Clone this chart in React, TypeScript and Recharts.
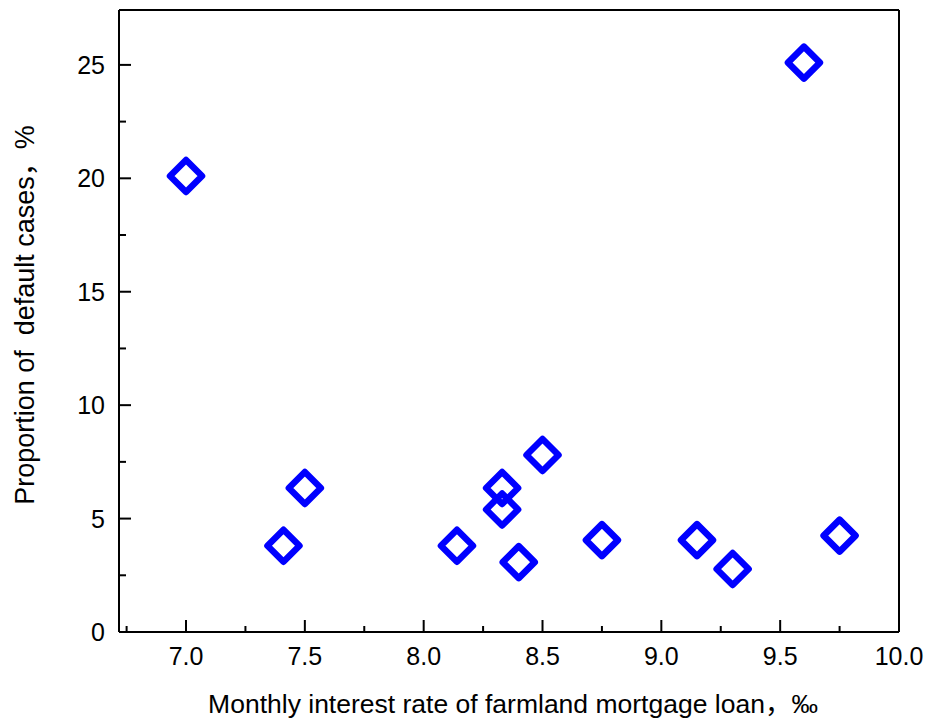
import React from "react";
import { ScatterChart, Scatter, XAxis, YAxis, ReferenceLine } from "recharts";

const interestRate = [7.0, 9.6, 7.41, 7.5, 8.14, 8.33, 8.33, 8.4, 8.5, 8.75, 9.15, 9.3, 9.75];
const defaultShare = [20.1, 25.1, 3.8, 6.35, 3.8, 6.35, 5.4, 3.08, 7.8, 4.05, 4.05, 2.78, 4.25];

const xTicks = [6.75, 7.0, 7.25, 7.5, 7.75, 8.0, 8.25, 8.5, 8.75, 9.0, 9.25, 9.5, 9.75, 10.0];
const xMajor = [7.0, 7.5, 8.0, 8.5, 9.0, 9.5, 10.0];
const yTicks = [0, 2.5, 5, 7.5, 10, 12.5, 15, 17.5, 20, 22.5, 25];
const yMajor = [0, 5, 10, 15, 20, 25];

const xTitle = "Monthly interest rate of farmland mortgage loan，‰";
const yTitle = "Proportion of  default cases，%";

const X_MIN = 6.718;
const X_MAX = 10;
const Y_MIN = 0;
const Y_MAX = 27.42;

const data = interestRate.map((x, i) => ({ x, y: defaultShare[i] }));

const FONT = "'Liberation Sans', 'Noto Sans CJK SC', Arial, sans-serif";

const isMajor = (arr: number[], v: number) => arr.some((m) => Math.abs(m - v) < 1e-6);

const XTick = (props: any) => {
  const { x, y, payload } = props;
  const v = payload.value as number;
  const major = isMajor(xMajor, v);
  return (
    <g>
      <line x1={x} x2={x} y1={y} y2={y - (major ? 12 : 6)} stroke="#000" strokeWidth={2} />
      {major && (
        <text x={x} y={y + 33} textAnchor="middle" fontSize={25} fontFamily={FONT} fill="#000">
          {v.toFixed(1)}
        </text>
      )}
    </g>
  );
};

const YTick = (props: any) => {
  const { x, y, payload } = props;
  const v = payload.value as number;
  const major = isMajor(yMajor, v);
  return (
    <g>
      <line x1={x} x2={x + (major ? 12 : 7)} y1={y} y2={y} stroke="#000" strokeWidth={2} />
      {major && (
        <text x={x - 14} y={y + 9} textAnchor="end" fontSize={25} fontFamily={FONT} fill="#000">
          {String(v)}
        </text>
      )}
    </g>
  );
};

const Diamond = (props: any) => {
  const { cx, cy } = props;
  const r = 16;
  const pts = `${cx},${cy - r} ${cx + r},${cy} ${cx},${cy + r} ${cx - r},${cy}`;
  return <polygon points={pts} fill="none" stroke="#0000FF" strokeWidth={6.5} strokeLinejoin="round" />;
};

const XTitle = (props: any) => {
  const vb = props.viewBox || {};
  return (
    <text
      x={vb.x + vb.width / 2 + 4}
      y={vb.y + 81}
      textAnchor="middle"
      fontSize={26.5}
      fontFamily={FONT}
      fill="#000"
      style={{ whiteSpace: "pre" }}
    >
      {xTitle}
    </text>
  );
};

const YTitle = () => {
  const cx = 26;
  const cy = 307;
  return (
    <text
      x={cx}
      y={cy}
      transform={`rotate(-90 ${cx} ${cy})`}
      textAnchor="middle"
      fontSize={27}
      fontFamily={FONT}
      fill="#000"
      style={{ whiteSpace: "pre" }}
    >
      {yTitle}
    </text>
  );
};

export default function App() {
  return (
    <div style={{ width: 925, height: 710, background: "#fff" }}>
      <ScatterChart width={925} height={710} margin={{ top: 2, right: 34, left: 51, bottom: 46 }}>
        <XAxis
          xAxisId="b"
          type="number"
          dataKey="x"
          domain={[X_MIN, X_MAX]}
          ticks={xTicks}
          interval={0}
          tickSize={0}
          tickMargin={0}
          tickLine={false}
          tick={<XTick />}
          axisLine={{ stroke: "#000", strokeWidth: 2 }}
          height={40}
          allowDataOverflow
          label={<XTitle />}
        />
        <YAxis
          yAxisId="l"
          type="number"
          dataKey="y"
          domain={[Y_MIN, Y_MAX]}
          ticks={yTicks}
          interval={0}
          tickSize={0}
          tickMargin={0}
          tickLine={false}
          tick={<YTick />}
          axisLine={{ stroke: "#000", strokeWidth: 2 }}
          width={60}
          allowDataOverflow
          label={<YTitle />}
        />
        <ReferenceLine xAxisId="b" yAxisId="l" y={Y_MAX} stroke="#000" strokeWidth={2} ifOverflow="extendDomain" />
        <ReferenceLine xAxisId="b" yAxisId="l" x={X_MAX} stroke="#000" strokeWidth={2} ifOverflow="extendDomain" />
        <Scatter xAxisId="b" yAxisId="l" data={data} shape={<Diamond />} isAnimationActive={false} />
      </ScatterChart>
    </div>
  );
}
